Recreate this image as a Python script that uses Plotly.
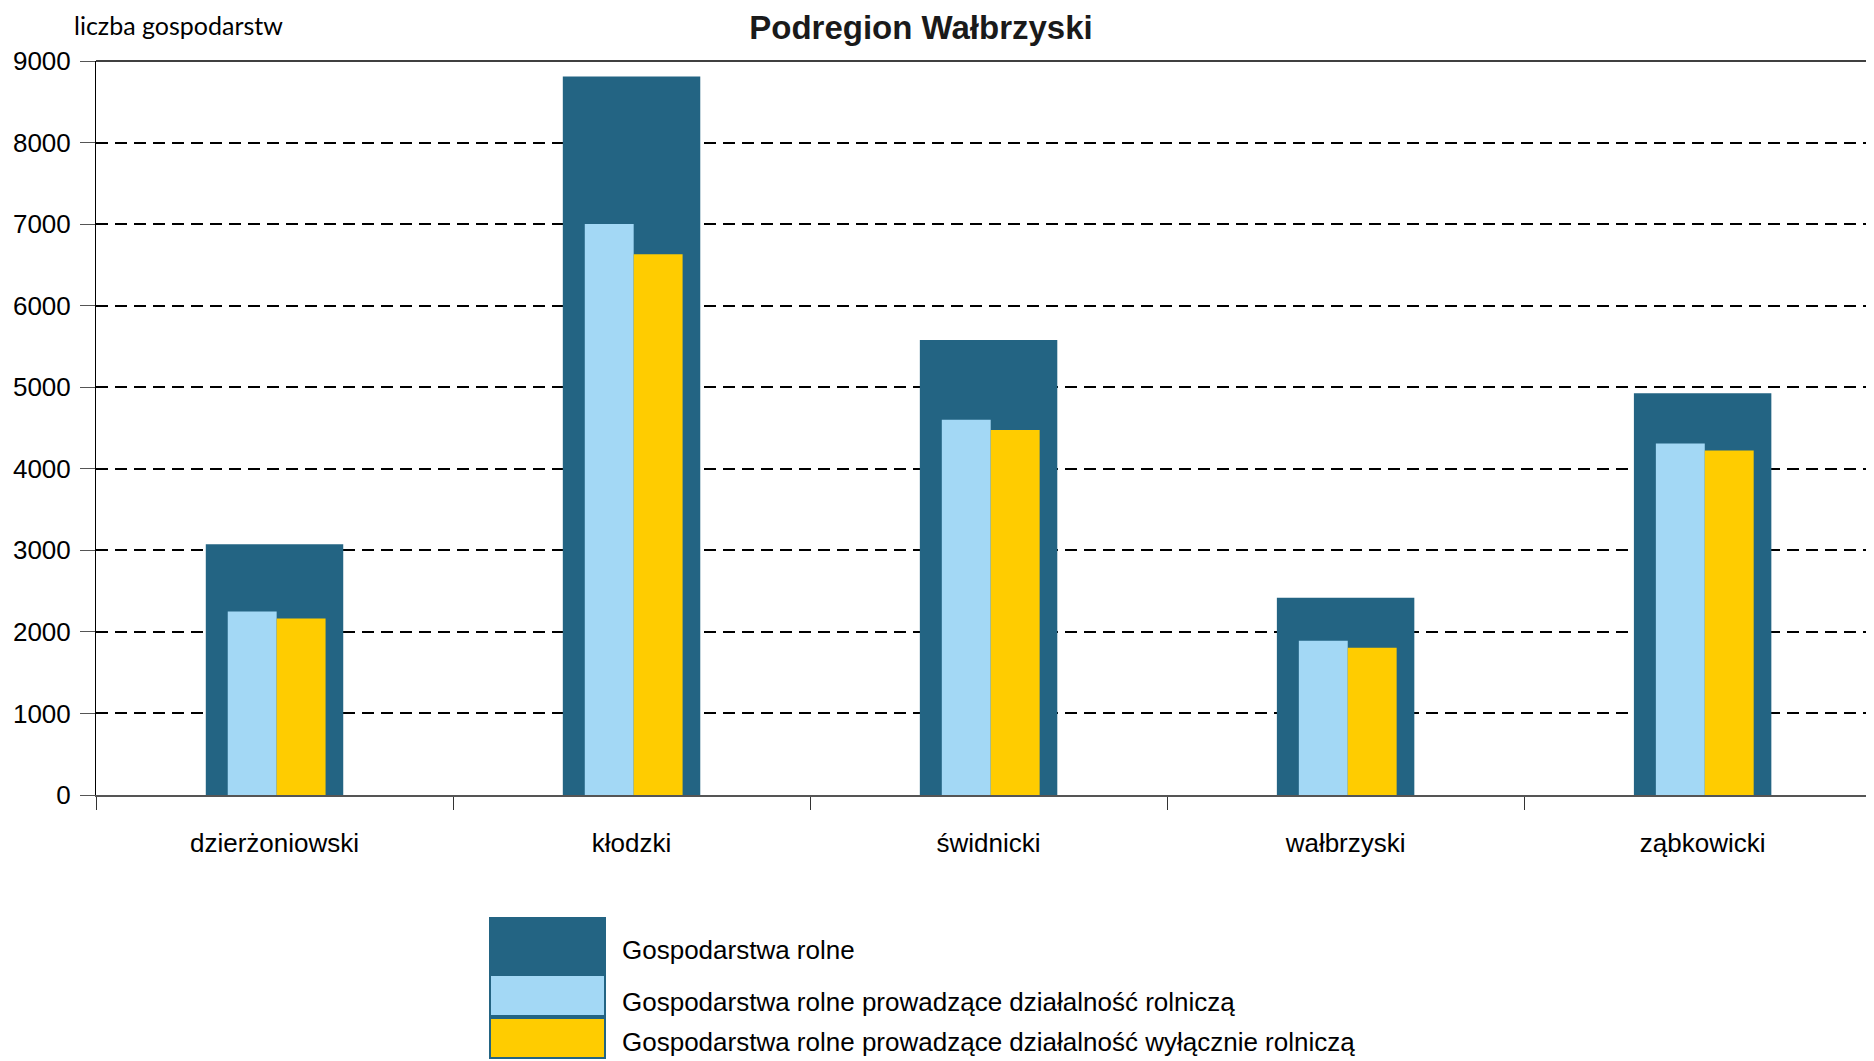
import plotly.graph_objects as go

# dane
powiaty = ['dzierżoniowski', 'kłodzki', 'świdnicki', 'wałbrzyski', 'ząbkowicki']
gosp_rolne = [3075, 8810, 5580, 2420, 4925]
gosp_dzial_rolnicza = [2250, 7000, 4600, 1890, 4310]
gosp_wylacznie_rolnicza = [2165, 6630, 4475, 1805, 4225]
nazwy = ['Gospodarstwa rolne',
         'Gospodarstwa rolne prowadzące działalność rolniczą',
         'Gospodarstwa rolne prowadzące działalność wyłącznie rolniczą']
kolory = ['#236483', '#A3D8F5', '#FFCC00']
y_ticks = [0, 1000, 2000, 3000, 4000, 5000, 6000, 7000, 8000, 9000]

# strona html ma margines 8px, wiec figura jest mniejsza o 8px
OFF = 8
W, H = 1874 - OFF, 1061 - OFF
L, R, T, B = 96 - OFF, 0, 61 - OFF, 266

fig = go.Figure()
fig.add_trace(go.Bar(x=powiaty, y=gosp_rolne, name=nazwy[0], marker_color=kolory[0],
                     width=0.385, offset=-0.1925, marker_line_width=0))
fig.add_trace(go.Bar(x=powiaty, y=gosp_dzial_rolnicza, name=nazwy[1], marker_color=kolory[1],
                     width=0.137, offset=-0.131, marker_line_width=0))
fig.add_trace(go.Bar(x=powiaty, y=gosp_wylacznie_rolnicza, name=nazwy[2], marker_color=kolory[2],
                     width=0.137, offset=0.006, marker_line_width=0))

# przeliczenie pikseli ekranu na wspolrzedne paper (legenda i napisy)
def px(xp):
    return (xp - OFF - L) / (W - L - R)

def py(yp):
    return (H - B - (yp - OFF)) / (H - T - B)

shapes = [
    # gorna ramka na 9000
    dict(type='line', xref='paper', yref='paper', x0=0, x1=1, y0=1, y1=1,
         line=dict(color='black', width=1.5)),
    # legenda - bloki kolorow
    dict(type='rect', xref='paper', yref='paper', x0=px(489), x1=px(606), y0=py(1059), y1=py(917),
         fillcolor=kolory[0], line_width=0, layer='above'),
    dict(type='rect', xref='paper', yref='paper', x0=px(491), x1=px(604), y0=py(1015), y1=py(976),
         fillcolor=kolory[1], line_width=0, layer='above'),
    dict(type='rect', xref='paper', yref='paper', x0=px(491), x1=px(604), y0=py(1057), y1=py(1019),
         fillcolor=kolory[2], line_width=0, layer='above'),
]

annotations = [
    dict(text='liczba gospodarstw', xref='paper', yref='paper', x=px(72), y=py(25),
         xanchor='left', yanchor='middle', showarrow=False,
         font=dict(family='Lato', size=25, color='black')),
]
for nazwa, yc in zip(nazwy, [950, 1002, 1042]):
    annotations.append(dict(text=nazwa, xref='paper', yref='paper', x=px(620), y=py(yc),
                            xanchor='left', yanchor='middle', showarrow=False,
                            font=dict(family='Liberation Sans', size=26, color='black')))

fig.update_layout(
    width=W, height=H,
    margin=dict(l=L, r=R, t=T, b=B),
    paper_bgcolor='white', plot_bgcolor='white',
    barmode='overlay',
    showlegend=False,
    font=dict(family='Liberation Sans', size=26, color='black'),
    title=dict(text='<b>Podregion Wałbrzyski</b>', xref='container', yref='container',
               x=(921 - OFF) / W, y=1 - (27 - OFF) / H, xanchor='center', yanchor='middle',
               font=dict(family='Liberation Sans', size=33, color='#1a1a1a')),
    shapes=shapes,
    annotations=annotations,
)
fig.update_xaxes(range=[-0.5, 4.48], showgrid=False, showline=True, linecolor='#555',
                 linewidth=1.5, ticks='outside', tickson='boundaries', ticklen=13,
                 tickcolor='#333', tickwidth=1, ticklabelstandoff=24,
                 tickfont=dict(size=26, color='black'))
fig.update_yaxes(range=[0, 9000], tickvals=y_ticks, showgrid=True, gridcolor='black',
                 gridwidth=1.5, griddash='12px,7px', zeroline=False, showline=True,
                 linecolor='black', linewidth=1, ticks='outside', ticklen=15,
                 tickcolor='#555', ticklabelstandoff=4, tickfont=dict(size=26, color='black'))

fig.write_html('out.html')
